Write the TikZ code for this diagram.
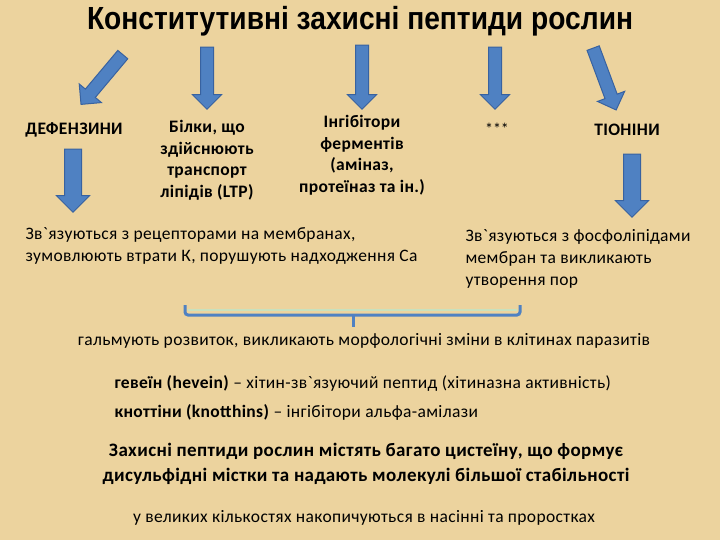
\documentclass[tikz,border=0pt]{standalone}
\usepackage{fontspec}
\setmainfont{Carlito}
\newfontfamily\spaced[LetterSpace=2]{Carlito}
\newfontfamily\titlefont[FakeStretch=0.88]{Liberation Sans}
\newcommand\gr{\symbol{"60}}
\usetikzlibrary{shapes.arrows}
\definecolor{parchment}{RGB}{236,211,158}
\definecolor{arrowblue}{RGB}{79,129,194}
\definecolor{arrowedge}{RGB}{56,98,160}
\definecolor{bracehi}{RGB}{200,225,190}
\tikzset{
 blockarrow/.style={single arrow, draw=arrowedge, fill=arrowblue, line width=1pt,
   inner sep=6pt, single arrow head extend=8pt, single arrow tip angle=90},
 bigarrow/.style={blockarrow, inner sep=8pt, single arrow head extend=8pt},
 label/.style={font=\spaced\fontsize{17.5}{21.5}\selectfont\bfseries, align=center},
 plain/.style={font=\spaced\fontsize{17.5}{22}\selectfont, align=left},
}
\begin{document}
\begin{tikzpicture}[x=1pt,y=-1pt]
\useasboundingbox (0,0) rectangle (720,540);
\fill[parchment] (0,0) rectangle (720,540);

\node[font=\titlefont\fontsize{32}{34}\selectfont\bfseries] (title) at (360,21) {Конститутивні захисні пептиди рослин};

% arrows from the title
\node[blockarrow, rotate=230, minimum height=65] (a1) at (104,77) {};
\node[blockarrow, rotate=-90, minimum height=62] (a2) at (207,75) {};
\node[blockarrow, rotate=-90, minimum height=64] (a3) at (362,74) {};
\node[blockarrow, rotate=-90, minimum height=62] (a4) at (495,75) {};
\node[blockarrow, rotate=-69.6, minimum height=66] (a5) at (603.5,76) {};

% groups
\node[label] (def) at (74,130) {ДЕФЕНЗИНИ};
\node[label, anchor=north] (ltp) at (207,117) {Білки, що\\здійснюють\\транспорт\\ліпідів (LTP)};
\node[label, anchor=north] (inh) at (362,112) {Інгібітори\\ферментів\\(аміназ,\\протеїназ та ін.)};
\node[label, font=\fontsize{16}{20}\selectfont] (star) at (497,129) {***};
\node[label] (thi) at (627,130) {ТІОНІНИ};

\node[bigarrow, rotate=-90, minimum height=63] (d1) at (73,176.5) {};
\node[bigarrow, rotate=-90, minimum height=63] (d2) at (632,181.5) {};

\node[plain, anchor=north west] (deftxt) at (22,224) {Зв\gr язуються з рецепторами на мембранах,\\зумовлюють втрати К, порушують надходження Са};
\node[plain, anchor=north west] (thitxt) at (462,226) {Зв\gr язуються з фосфоліпідами\\мембран та викликають\\утворення пор};

% brace
\coordinate (bl) at (185,305);
\coordinate (br) at (520,305);
\coordinate (bm) at (353,327);
\draw[bracehi, line width=1.5pt] (188,310) -- (517,310);
\draw[arrowblue, line width=3pt, rounded corners=3pt] (bl) -- (185,315) -- (520,315) -- (br);
\draw[arrowblue, line width=3pt] (353,315) -- (bm);

\node[plain] (harm) at (364,341) {гальмують розвиток, викликають морфологічні зміни в клітинах паразитів};
\node[plain, anchor=west] (hev) at (111,383) {\textbf{гевеїн (hevein)} – хітин-зв\gr язуючий пептид (хітиназна активність)};
\node[plain, anchor=west] (kno) at (111,412) {\textbf{кноттіни (knotthins)} – інгібітори альфа-амілази};

\node[label, font=\spaced\fontsize{19}{25}\selectfont\bfseries] (cys) at (366,464) {Захисні пептиди рослин містять багато цистеїну, що формує\\дисульфідні містки та надають молекулі більшої стабільності};
\node[plain] (seed) at (364,518) {у великих кількостях накопичуються в насінні та проростках};
\end{tikzpicture}
\end{document}
